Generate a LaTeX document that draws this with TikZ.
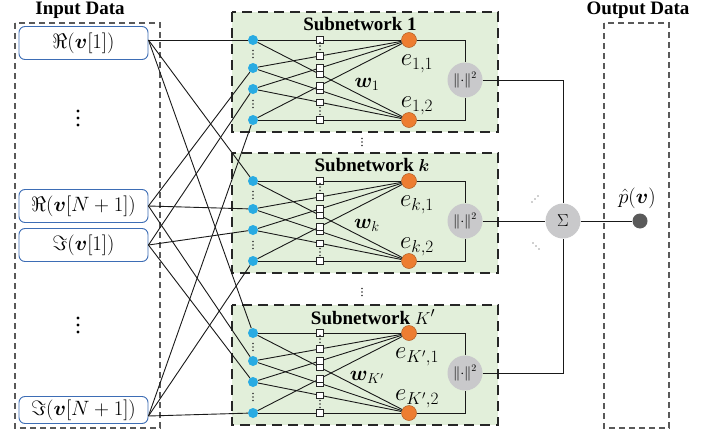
\documentclass[tikz,border=0pt]{standalone}
\usepackage{amsmath,bm}
\usepackage{fontspec}
\setmainfont{Liberation Serif}
\definecolor{cgreen}{HTML}{E2EFDA}
\definecolor{cblue}{HTML}{29ABE2}
\definecolor{corange}{HTML}{ED7D31}
\definecolor{cgray}{HTML}{C9C9CB}
\definecolor{cbox}{HTML}{3D6DB5}
\definecolor{cdark}{HTML}{5A5A5A}
\tikzset{
  blu/.style={circle, fill=cblue, inner sep=0, minimum size=10pt},
  org/.style={circle, fill=corange, draw=corange!75!black, line width=0.5pt, inner sep=0, minimum size=15pt},
  sqr/.style={rectangle, draw=black!85, fill=white, line width=0.7pt, inner sep=0, minimum size=6.5pt},
  gcirc/.style={circle, fill=cgray, inner sep=0, minimum size=35pt},
  inbox/.style={rounded corners=6pt, draw=cbox, line width=0.9pt, fill=white, minimum width=129pt, minimum height=33pt, inner sep=0, font=\fontsize{22}{26}\selectfont},
  subbox/.style={draw=black!85, line width=2.5pt, dash pattern=on 10pt off 6pt, fill=cgreen},
  databox/.style={draw=black!65, line width=1.3pt, dash pattern=on 6pt off 4pt},
  conn/.style={line width=0.9pt, draw=black!90},
  ttl/.style={font=\fontsize{19}{22}\selectfont\bfseries},
  elab/.style={font=\fontsize{25}{28}\selectfont, inner sep=0},
  wlab/.style={font=\fontsize{20}{24}\selectfont, inner sep=0},
  tinydot/.style={fill=black!80},
}
\begin{document}
\begin{tikzpicture}[x=1pt,y=-1pt]
\useasboundingbox (0,0) rectangle (718,434);
% data boxes
\draw[databox] (15,23) rectangle (160,428);
\draw[databox] (604,23) rectangle (669,428);
\node[ttl] (tin) at (80,10) {Input Data};
\node[ttl] (tout) at (638,10) {Output Data};
% input nodes
\node[inbox] (r1) at (83.5,43) {$\Re(\boldsymbol{v}[1])$};
\node[inbox] (rn) at (83.5,206) {$\Re(\boldsymbol{v}[N+1])$};
\node[inbox] (i1) at (83.5,245) {$\Im(\boldsymbol{v}[1])$};
\node[inbox, minimum height=27pt] (in) at (83.5,410) {$\Im(\boldsymbol{v}[N+1])$};
\foreach \d in {-7,0,7} {
  \fill[black] (78,118+\d) circle (1.6pt);
  \fill[black] (78,325+\d) circle (1.6pt);
}
% subnetworks
\foreach \s/\t/\tx/\ttext/\sb in {1/12/360/{Subnetwork 1}/{1}, k/153/372/{Subnetwork $\boldsymbol{k}$}/{k}, K/305/373/{Subnetwork $K'$}/{K'}} {
  \path[subbox] (232,\t) rectangle (498,{\t+120});
  \node[ttl] (ttl\s) at (\tx,{\t+12}) {\ttext};
  \node[blu] (b\s1) at (253,{\t+28}) {};
  \node[blu] (b\s2) at (253,{\t+56}) {};
  \node[blu] (b\s3) at (253,{\t+77}) {};
  \node[blu] (b\s4) at (253,{\t+108}) {};
  \node[org] (e\s1) at (409,{\t+28}) {};
  \node[org] (e\s2) at (409,{\t+108}) {};
  \foreach \i in {1,2,3,4} {
    \foreach \j in {1,2} {
      \draw[conn] (b\s\i) -- coordinate[pos=0.43] (q\s\i\j) (e\s\j);
    }
  }
  \foreach \i in {1,2,3,4} {
    \foreach \j in {1,2} {
      \node[sqr] at (q\s\i\j) {};
    }
  }
  \foreach \d in {-3.5,0,3.5} {
    \fill[tinydot] (253,{\t+42+\d}) circle (0.8pt);
    \fill[tinydot] (253,{\t+92+\d}) circle (0.8pt);
    \fill[tinydot] (320,{\t+34+\d}) circle (0.8pt);
    \fill[tinydot] (320,{\t+99+\d}) circle (0.8pt);
  }
  \node[elab] (le\s1) at (417,{\t+52}) {$e_{\sb,1}$};
  \node[elab] (le\s2) at (417,{\t+94}) {$e_{\sb,2}$};
  \node[wlab] (w\s) at (367,{\t+72}) {$\boldsymbol{w}_{\sb}$};
  \node[gcirc, font=\fontsize{14}{16}\selectfont] (n\s) at (465,{\t+68}) {$\|{\cdot}\|^2$};
  \draw[conn] (e\s1) -| (n\s);
  \draw[conn] (e\s2) -| (n\s);
}
% vertical dots between subnetworks
\foreach \d in {-3.5,0,3.5} {
  \fill[tinydot] (362,142+\d) circle (0.8pt);
  \fill[tinydot] (362,292+\d) circle (0.8pt);
}
% input connectors
\foreach \s in {1,k,K} {
  \draw[conn] ([yshift=3pt]r1.east) -- (b\s1);
  \draw[conn] (rn.east) -- (b\s2);
  \draw[conn] (i1.east) -- (b\s3);
  \draw[conn] ([yshift=-6pt]in.east) -- (b\s4);
}
% sum and output
\node[gcirc, font=\fontsize{17}{20}\selectfont] (sig) at (563,221) {$\Sigma$};
\draw[conn] (n1) -| (sig);
\draw[conn] (nk) -- (sig);
\draw[conn] (nK) -| (sig);
\node[circle, fill=cdark, inner sep=0, minimum size=15pt] (out) at (640,221) {};
\draw[conn] (sig) -- (out);
\node[font=\fontsize{22}{26}\selectfont, inner sep=0] (pl) at (637,198) {$\hat{p}(\boldsymbol{v})$};
\foreach \d in {-3,0,3} {
  \fill[tinydot] (535+\d,199-\d) circle (0.7pt);
  \fill[tinydot] (536+\d,246+\d) circle (0.7pt);
}
\end{tikzpicture}
\end{document}
